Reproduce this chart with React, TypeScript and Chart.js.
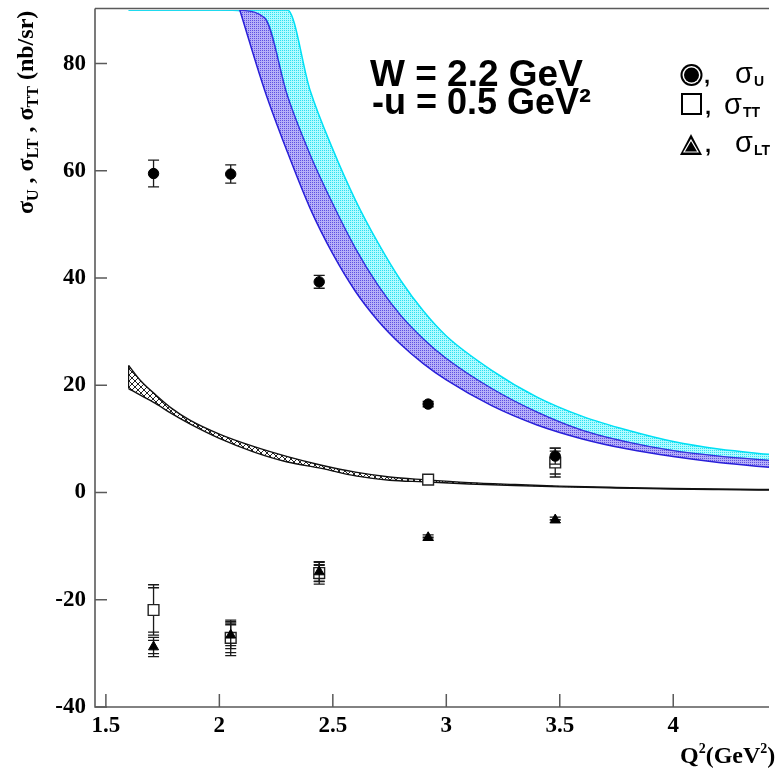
import React, { useEffect, useRef } from 'react';
import { Chart, registerables } from 'chart.js';

Chart.register(...registerables);

// ---- measured cross sections (nb/sr) vs Q^2 (GeV^2) ----
const Q2_POINTS = [1.71, 2.05, 2.44, 2.92, 3.48];
const SIGMA_U = [59.5, 59.4, 39.3, 16.5, 6.8];
const SIGMA_U_ERR = [2.5, 1.7, 1.2, 0.5, 1.5];
const SIGMA_TT = [-21.9, -27.1, -15.0, 2.4, 5.6];
const SIGMA_TT_ERR = [4.7, 3.3, 2.1, 0.8, 2.7];
const SIGMA_LT = [-28.8, -26.6, -14.8, -8.4, -5.1];
const SIGMA_LT_ERR = [1.8, 2.5, 1.8, 0.5, 0.5];

// ---- model bands ----
const BLACK_X = [1.6, 1.65, 1.72, 1.79, 1.87, 2.0, 2.15, 2.3, 2.45, 2.6, 2.75, 2.9, 3.1, 3.3, 3.5, 3.75, 4.0, 4.2, 4.45];
const BLACK_UP = [23.7, 21.0, 18.2, 15.7, 13.5, 10.9, 8.6, 6.7, 5.1, 3.8, 2.9, 2.4, 1.85, 1.5, 1.2, 0.95, 0.75, 0.65, 0.55];
const BLACK_LO = [19.4, 18.2, 16.6, 14.7, 12.8, 10.1, 7.6, 5.7, 4.5, 3.1, 2.3, 2.0, 1.6, 1.3, 1.05, 0.85, 0.65, 0.55, 0.45];

const BLUE_X = [2.09, 2.2, 2.3, 2.4, 2.5, 2.6, 2.7, 2.8, 2.9, 3.0, 3.2, 3.4, 3.6, 3.8, 4.0, 4.2, 4.45];
const BLUE_LO = [90, 75, 63.5, 53, 44.5, 37.5, 32, 27.6, 24, 21, 16.2, 12.6, 10.0, 8.1, 6.7, 5.6, 4.6];
const BLUE_UP = [90, 88.5, 74, 63, 53.8, 45.5, 38.6, 33, 28.6, 25, 19.4, 15.0, 11.6, 9.4, 7.8, 6.8, 5.9];

const CYAN_X = [1.6, 2.0, 2.2, 2.3, 2.4, 2.5, 2.6, 2.7, 2.8, 2.9, 3.0, 3.2, 3.4, 3.6, 3.8, 4.0, 4.2, 4.45];
const CYAN_LO = [90, 90, 88.5, 74, 63, 53.8, 45.5, 38.6, 33, 28.6, 25, 19.4, 15.0, 11.6, 9.4, 7.8, 6.8, 5.9];
const CYAN_UP = [90, 90, 90, 90, 75, 64, 54.5, 46.5, 39.5, 33.8, 29.2, 22.8, 17.8, 14.2, 11.6, 9.5, 8.1, 7.0];

// ---- axes ----
const X_TICKS = [1.5, 2, 2.5, 3, 3.5, 4];
const Y_TICKS = [-40, -20, 0, 20, 40, 60, 80];
const X_MIN = 1.452;
const X_MAX = 4.422;
const Y_MIN = -40;
const Y_MAX = 90;

const SERIF = '"Liberation Serif", "Times New Roman", serif';
const SANS = '"Liberation Sans", Arial, sans-serif';

const pts = (xs: number[], ys: number[]) => xs.map((x, i) => ({ x, y: ys[i] }));

function gridPattern(bg: string, fg: string) {
  const c = document.createElement('canvas');
  c.width = 2;
  c.height = 2;
  const g = c.getContext('2d')!;
  g.fillStyle = bg;
  g.fillRect(0, 0, 2, 2);
  g.fillStyle = fg;
  g.fillRect(0, 0, 1, 1);
  return g.createPattern(c, 'repeat') as CanvasPattern;
}

function hatchPattern() {
  const s = 6;
  const c = document.createElement('canvas');
  c.width = s;
  c.height = s;
  const g = c.getContext('2d')!;
  g.fillStyle = '#ffffff';
  g.fillRect(0, 0, s, s);
  g.strokeStyle = '#222';
  g.lineWidth = 1;
  g.beginPath();
  g.moveTo(0, 0);
  g.lineTo(s, s);
  g.moveTo(s, 0);
  g.lineTo(0, s);
  g.stroke();
  return g.createPattern(c, 'repeat') as CanvasPattern;
}

const errorBarPlugin = {
  id: 'errorBars',
  beforeDatasetDraw(chart: any, args: any) {
    const ds: any = chart.data.datasets[args.index];
    if (!ds.errors) return;
    const { ctx } = chart;
    const xs = chart.scales.x;
    const ys = chart.scales.y;
    ctx.save();
    ctx.strokeStyle = '#1a1a1a';
    ctx.lineWidth = 1.3;
    ds.data.forEach((p: any, i: number) => {
      const px = xs.getPixelForValue(p.x);
      const t = ys.getPixelForValue(p.y + ds.errors[i]);
      const b = ys.getPixelForValue(p.y - ds.errors[i]);
      ctx.beginPath();
      ctx.moveTo(px, t);
      ctx.lineTo(px, b);
      const caps = ds.doubleCap ? [0, 3] : [0];
      caps.forEach((o: number) => {
        ctx.moveTo(px - 5.5, t + o);
        ctx.lineTo(px + 5.5, t + o);
        ctx.moveTo(px - 5.5, b - o);
        ctx.lineTo(px + 5.5, b - o);
      });
      ctx.stroke();
    });
    ctx.restore();
  },
};

const framePlugin = {
  id: 'frame',
  afterDraw(chart: any) {
    const { ctx, chartArea } = chart;
    const xs = chart.scales.x;
    const ys = chart.scales.y;
    const { left, right, top, bottom } = chartArea;
    ctx.save();
    // frame
    ctx.strokeStyle = '#5a5a5a';
    ctx.lineWidth = 1.6;
    ctx.beginPath();
    ctx.moveTo(left, top - 1.5);
    ctx.lineTo(right, top - 1.5);
    ctx.moveTo(left, top - 1.5);
    ctx.lineTo(left, bottom);
    ctx.lineTo(right, bottom);
    ctx.stroke();
    // inward ticks
    ctx.lineWidth = 1.5;
    ctx.beginPath();
    Y_TICKS.forEach((v) => {
      const py = ys.getPixelForValue(v);
      ctx.moveTo(left, py);
      ctx.lineTo(left + 12, py);
    });
    X_TICKS.forEach((v) => {
      const px = xs.getPixelForValue(v);
      ctx.moveTo(px, bottom);
      ctx.lineTo(px, bottom - 13);
    });
    ctx.stroke();

    ctx.fillStyle = '#000';
    ctx.textBaseline = 'alphabetic';
    ctx.textAlign = 'left';

    // y-axis title with subscripts
    ctx.save();
    ctx.translate(33, 214);
    ctx.rotate(-Math.PI / 2);
    const segs: [string, boolean][] = [
      ['σ', false], ['U', true], [' , ', false], ['σ', false], ['LT', true],
      [' , ', false], ['σ', false], ['TT', true], [' (nb/sr)', false],
    ];
    let tx = 0;
    segs.forEach(([t, sub]) => {
      ctx.font = sub ? `bold 16px ${SERIF}` : `bold 24px ${SERIF}`;
      ctx.fillText(t, tx, sub ? 5 : 0);
      tx += ctx.measureText(t).width;
    });
    ctx.restore();

    // x-axis title
    let qx = 680;
    const xsegs: [string, number, number][] = [
      ['Q', 24, 0], ['2', 14, -10], ['(GeV', 24, 0], ['2', 14, -10], [')', 24, 0],
    ];
    xsegs.forEach(([t, size, dy]) => {
      ctx.font = `bold ${size}px ${SERIF}`;
      ctx.fillText(t, qx, 763 + dy);
      qx += ctx.measureText(t).width;
    });

    // annotation
    ctx.font = `bold 37px ${SANS}`;
    ctx.fillText('W = 2.2 GeV', 370, 86);
    ctx.font = `bold 36px ${SANS}`;
    ctx.fillText('-u = 0.5 GeV²', 372, 114);

    // legend
    ctx.beginPath();
    ctx.arc(691.5, 75, 11, 0, Math.PI * 2);
    ctx.fillStyle = '#000';
    ctx.fill();
    ctx.beginPath();
    ctx.arc(691.5, 75, 9, 0, Math.PI * 2);
    ctx.fillStyle = '#fff';
    ctx.fill();
    ctx.beginPath();
    ctx.arc(691.5, 75, 7.5, 0, Math.PI * 2);
    ctx.fillStyle = '#000';
    ctx.fill();
    ctx.strokeStyle = '#000';
    ctx.lineWidth = 2;
    ctx.strokeRect(682, 94, 19, 20);
    ctx.beginPath();
    ctx.moveTo(691, 134);
    ctx.lineTo(702, 155);
    ctx.lineTo(680, 155);
    ctx.closePath();
    ctx.fillStyle = '#000';
    ctx.fill();
    ctx.beginPath();
    ctx.moveTo(691, 140);
    ctx.lineTo(698, 152);
    ctx.lineTo(684, 152);
    ctx.closePath();
    ctx.strokeStyle = '#fff';
    ctx.lineWidth = 1.2;
    ctx.stroke();

    ctx.fillStyle = '#000';
    const legendRow = (y: number, commaX: number, sx: number, sub: string) => {
      ctx.font = `bold 22px ${SANS}`;
      ctx.fillText(',', commaX, y);
      ctx.font = `29px ${SANS}`;
      ctx.fillText('σ', sx, y);
      const w = ctx.measureText('σ').width;
      ctx.font = `bold 14px ${SANS}`;
      ctx.fillText(sub, sx + w + 1, y + 3);
    };
    legendRow(83, 704, 735, 'U');
    legendRow(114, 705, 724, 'TT');
    legendRow(152, 705, 735, 'LT');
    ctx.restore();
  },
};

export default function App() {
  const ref = useRef<HTMLCanvasElement>(null);

  useEffect(() => {
    document.body.style.margin = '0';
    const canvas = ref.current!;
    const blueFill = gridPattern('#b6aff8', '#5d52e2');
    const cyanFill = gridPattern('#b0fbff', '#2fdff0');
    const hatch = hatchPattern();

    const band = (data: any, color: string, width: number, fill: any, bg: any) => ({
      data,
      borderColor: color,
      borderWidth: width,
      backgroundColor: bg,
      fill,
      pointRadius: 0,
      pointHoverRadius: 0,
      showLine: true,
      cubicInterpolationMode: 'monotone',
    });

    const chart = new Chart(canvas, {
      type: 'line',
      data: {
        datasets: [
          {
            label: 'σU',
            data: pts(Q2_POINTS, SIGMA_U),
            errors: SIGMA_U_ERR,
            showLine: false,
            pointStyle: 'circle',
            pointRadius: 5.2,
            pointBackgroundColor: '#000',
            pointBorderColor: '#000',
            pointBorderWidth: 1,
          } as any,
          {
            label: 'σLT',
            data: pts(Q2_POINTS, SIGMA_LT),
            errors: SIGMA_LT_ERR,
            doubleCap: true,
            showLine: false,
            pointStyle: 'triangle',
            pointRadius: 5.8,
            pointBackgroundColor: '#000',
            pointBorderColor: '#000',
            pointBorderWidth: 1,
          } as any,
          {
            label: 'σTT',
            data: pts(Q2_POINTS, SIGMA_TT),
            errors: SIGMA_TT_ERR,
            doubleCap: true,
            showLine: false,
            pointStyle: 'rect',
            pointRadius: 7.6,
            pointBackgroundColor: '#fff',
            pointBorderColor: '#222',
            pointBorderWidth: 1.4,
          } as any,
          band(
            [{ x: BLACK_X[0], y: BLACK_LO[0] }, { x: BLACK_X[0], y: BLACK_UP[0] }],
            '#111', 1.2, false, 'transparent'
          ),
          band(pts(BLACK_X, BLACK_LO), '#111', 1.4, false, 'transparent'),
          band(pts(BLACK_X, BLACK_UP), '#111', 1.4, '-1', hatch),
          band(pts(BLUE_X, BLUE_LO), '#2a1fd8', 1.5, false, 'transparent'),
          band(pts(BLUE_X, BLUE_UP), '#3a30dc', 1.3, '-1', blueFill),
          band(pts(CYAN_X, CYAN_LO), '#16d6ee', 1.3, false, 'transparent'),
          band(pts(CYAN_X, CYAN_UP), '#00e0f4', 1.5, '-1', cyanFill),
        ] as any,
      },
      options: {
        animation: false,
        responsive: false,
        events: [],
        layout: { padding: { top: 10, left: 0, right: 0, bottom: 0 } },
        plugins: {
          legend: { display: false },
          tooltip: { enabled: false },
        },
        scales: {
          x: {
            type: 'linear',
            min: X_MIN,
            max: X_MAX,
            afterBuildTicks: (s: any) => {
              s.ticks = X_TICKS.map((v) => ({ value: v }));
            },
            afterFit: (s: any) => {
              s.height = 61;
              s.paddingLeft = 0;
              s.paddingRight = 0;
            },
            grid: { display: false, drawTicks: false },
            border: { display: false },
            ticks: {
              autoSkip: false,
              maxRotation: 0,
              padding: 5,
              color: '#000',
              font: { family: SERIF, size: 23, weight: 'bold' },
              callback: (v: any) => String(v),
            },
          },
          y: {
            type: 'linear',
            min: Y_MIN,
            max: Y_MAX,
            afterBuildTicks: (s: any) => {
              s.ticks = Y_TICKS.map((v) => ({ value: v }));
            },
            afterFit: (s: any) => {
              s.width = 95;
              s.paddingTop = 0;
              s.paddingBottom = 0;
            },
            grid: { display: false, drawTicks: false },
            border: { display: false },
            ticks: {
              autoSkip: false,
              padding: 9,
              color: '#000',
              font: { family: SERIF, size: 23, weight: 'bold' },
              callback: (v: any) => String(v),
            },
          },
        },
      } as any,
      plugins: [errorBarPlugin, framePlugin],
    });

    return () => chart.destroy();
  }, []);

  return (
    <div style={{ width: 778, height: 768 }}>
      <canvas ref={ref} width={778} height={768} style={{ display: 'block' }} />
    </div>
  );
}
